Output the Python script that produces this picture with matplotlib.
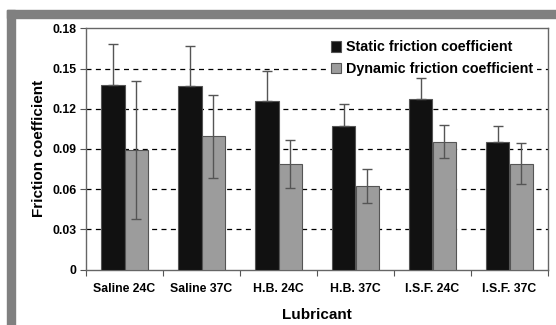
import numpy as np
import matplotlib
matplotlib.use("Agg")
import matplotlib.pyplot as plt
from matplotlib.patches import Rectangle

plt.rcParams['font.family'] = ['Liberation Sans', 'DejaVu Sans']
plt.rcParams['font.weight'] = 'bold'

# data
lubricants = ['Saline 24C', 'Saline 37C', 'H.B. 24C', 'H.B. 37C', 'I.S.F. 24C', 'I.S.F. 37C']
static_mean = [0.138, 0.137, 0.1255, 0.107, 0.1275, 0.0955]
static_err = [0.030, 0.0295, 0.0225, 0.0165, 0.0155, 0.0115]
dynamic_mean = [0.089, 0.0995, 0.079, 0.0625, 0.0955, 0.079]
dynamic_err = [0.0515, 0.031, 0.018, 0.0125, 0.0125, 0.0155]
yticks = [0, 0.03, 0.06, 0.09, 0.12, 0.15, 0.18]
ytick_labels = ['0', '0.03', '0.06', '0.09', '0.12', '0.15', '0.18']

fig = plt.figure(figsize=(5.56, 3.25), dpi=100)
W, H = 556, 325

# grey frame round the figure (top and left bands)
fig.patches.append(Rectangle((7 / W, 1 - 17.5 / H), 1 - 7 / W, 7.5 / H,
                             transform=fig.transFigure, color='#808080', zorder=0))
fig.patches.append(Rectangle((7 / W, 0), 8 / W, 1 - 10 / H,
                             transform=fig.transFigure, color='#808080', zorder=0))

ax = fig.add_axes([86 / W, 55.5 / H, 462 / W, 241.2 / H])

x = np.arange(len(lubricants)) + 0.5
bw = 0.3
err_kw = dict(ecolor='#555555', elinewidth=1, capsize=3.5, capthick=1)

ax.bar(x - bw / 2, static_mean, bw, color='#111111', edgecolor='#555555', linewidth=0.8,
       yerr=[np.zeros(len(static_err)), static_err], error_kw=err_kw,
       label='Static friction coefficient', zorder=3)
ax.bar(x + bw / 2, dynamic_mean, bw, color='#9c9c9c', edgecolor='#555555', linewidth=0.8,
       yerr=dynamic_err, error_kw=err_kw,
       label='Dynamic friction coefficient', zorder=3)

ax.set_xlim(0, len(lubricants))
ax.set_ylim(0, 0.18)
ax.set_yticks(yticks)
ax.set_yticklabels(ytick_labels)

# grid lines (not at 0 or top)
for t in yticks[1:-1]:
    ax.axhline(t, color='black', lw=0.9, ls=(0, (4, 3.5)), zorder=1)

# ticks at group boundaries, labels at centres
ax.set_xticks(np.arange(len(lubricants) + 1))
ax.set_xticklabels([])
ax.set_xticks(x, minor=True)
ax.set_xticklabels(lubricants, minor=True, fontsize=8.8, fontweight='bold')
ax.tick_params(axis='x', which='minor', length=0, pad=10)
ax.tick_params(axis='x', which='major', length=4, color='#555555', direction='out')
ax.tick_params(axis='y', length=4, color='#555555', labelsize=8.8, pad=3)
for lab in ax.get_yticklabels():
    lab.set_fontweight('bold')

for s in ax.spines.values():
    s.set_color('#666666')
    s.set_linewidth(1)

ax.set_ylabel('Friction coefficient', fontsize=11, fontweight='bold', labelpad=4)
ax.set_xlabel('Lubricant', fontsize=11, fontweight='bold', labelpad=9)

leg = ax.legend(loc='upper left', bbox_to_anchor=(0.52, 0.968), fontsize=10.3,
                frameon=True, framealpha=1, edgecolor='none', facecolor='white',
                handlelength=0.75, handleheight=0.75, handletextpad=0.3,
                labelspacing=0.55, borderpad=0.3, borderaxespad=0, fancybox=False)
leg.set_zorder(2)
for t in leg.get_texts():
    t.set_fontweight('bold')

fig.savefig('out.png', dpi=100, facecolor='white')
